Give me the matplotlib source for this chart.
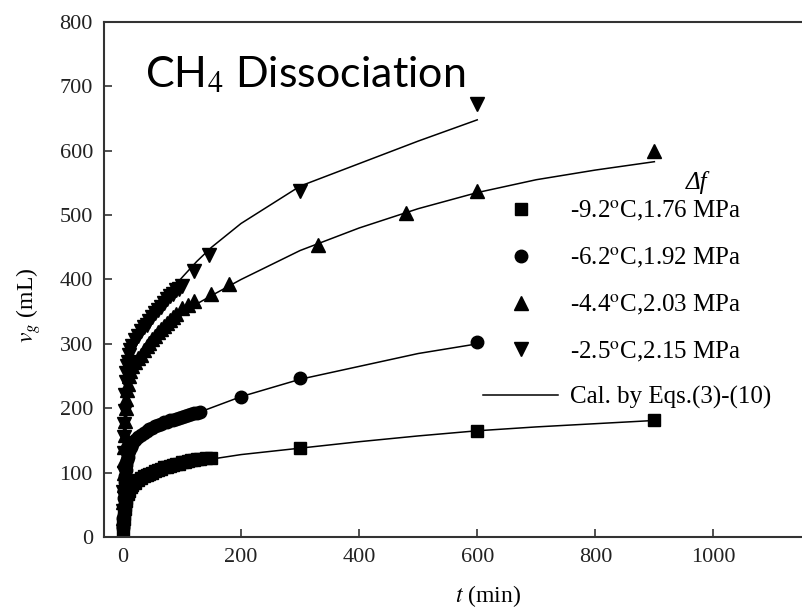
import numpy as np
import matplotlib
matplotlib.use('Agg')
import matplotlib.pyplot as plt
from matplotlib.lines import Line2D

# ============================== DATA ==============================
# Measured gas volume v_g [mL] vs time t [min] for four conditions

# -9.2 C, 1.76 MPa (squares)
t_sq = [0, 0.5, 1, 2, 3, 4, 5, 6, 8, 10, 13, 16, 20, 25, 30, 35, 40, 45, 50, 55,
        60, 65, 70, 75, 80, 85, 90, 95, 100, 105, 110, 115, 120, 125, 130, 140, 150,
        300, 600, 900]
v_sq = [10, 20, 28, 36, 44, 50, 56, 61, 67, 72, 77, 80, 84, 88, 91, 94, 96, 98, 100, 102,
        104, 106, 108, 109, 111, 112, 113, 114, 116, 117, 118, 119, 120, 121, 121, 122, 123,
        138, 165, 182]

# -6.2 C, 1.92 MPa (circles)
t_ci = [0, 0.5, 1, 1.5, 2, 3, 4, 5, 6, 7, 8, 10, 13, 16, 20, 25, 30, 35, 40, 45,
        50, 55, 60, 65, 70, 75, 80, 85, 90, 95, 100, 105, 110, 115, 120, 125, 130,
        200, 300, 600]
v_ci = [15, 30, 45, 60, 72, 85, 95, 104, 112, 119, 125, 133, 140, 145, 150, 155, 159, 162, 165, 168,
        170, 172, 174, 176, 178, 179, 181, 182, 184, 185, 187, 188, 190, 191, 192, 193, 194,
        218, 247, 303]

# -4.4 C, 2.03 MPa (up triangles)
t_up = [0, 0.5, 1, 1.5, 2, 2.5, 3, 4, 5, 6, 7, 8, 10, 12, 15, 20, 25, 30, 35, 40,
        45, 50, 55, 60, 65, 70, 75, 80, 85, 90, 100, 110, 120, 150, 180,
        330, 480, 600, 900]
v_up = [30, 55, 80, 100, 120, 140, 158, 180, 200, 215, 228, 238, 250, 258, 265, 272, 278, 283, 290, 296,
        302, 307, 312, 318, 323, 328, 333, 337, 342, 347, 355, 360, 366, 378, 393,
        453, 503, 537, 600]

# -2.5 C, 2.15 MPa (down triangles)
t_dn = [0, 0.5, 1, 1.5, 2, 2.5, 3, 4, 5, 6, 7, 8, 10, 12, 15, 20, 25, 30, 35, 40,
        45, 50, 55, 60, 65, 70, 75, 80, 85, 90, 95, 100, 120, 145,
        300, 600]
v_dn = [40, 70, 100, 130, 155, 175, 195, 220, 240, 255, 265, 272, 282, 290, 297, 306, 313, 320, 326, 330,
        336, 342, 348, 353, 358, 363, 369, 374, 378, 383, 386, 390, 413, 438,
        537, 672]

# Calculated curves, Eqs.(3)-(10)
tc_sq = [0, 2, 5, 10, 20, 30, 50, 75, 100, 150, 200, 300, 400, 500, 600, 700, 800, 900]
vc_sq = [0, 35, 55, 70, 84, 91, 100, 110, 116, 121, 128, 138, 148, 157, 165, 171, 176, 181]
tc_ci = [0, 2, 5, 10, 20, 30, 50, 75, 100, 130, 200, 300, 400, 500, 600]
vc_ci = [0, 70, 105, 130, 148, 157, 170, 180, 187, 194, 218, 245, 265, 285, 300]
tc_up = [0, 2, 5, 10, 20, 30, 40, 60, 80, 100, 125, 150, 200, 300, 400, 500, 600, 700, 800, 900]
vc_up = [0, 130, 200, 245, 265, 275, 285, 305, 325, 345, 362, 375, 400, 445, 480, 510, 535, 555, 570, 583]
tc_dn = [0, 2, 5, 10, 20, 30, 40, 60, 80, 100, 125, 150, 200, 300, 400, 500, 600]
vc_dn = [0, 150, 230, 275, 305, 322, 338, 360, 382, 403, 428, 450, 487, 545, 580, 615, 648]

labels = ['-9.2$^{\\mathrm{o}}$C,1.76 MPa', '-6.2$^{\\mathrm{o}}$C,1.92 MPa',
          '-4.4$^{\\mathrm{o}}$C,2.03 MPa', '-2.5$^{\\mathrm{o}}$C,2.15 MPa']
calc_label = 'Cal. by Eqs.(3)-(10)'

# ============================== PLOT ==============================
plt.rcParams['font.family'] = 'Liberation Serif'
plt.rcParams['mathtext.fontset'] = 'stix'
plt.rcParams['axes.linewidth'] = 1.5

fig = plt.figure(figsize=(8.02, 6.13), dpi=100)
ax = fig.add_axes([0.1297, 0.124, 0.8703, 0.8401])

lc = 'k'
ax.plot(tc_sq, vc_sq, '-', color=lc, lw=1.1)
ax.plot(tc_ci, vc_ci, '-', color=lc, lw=1.1)
ax.plot(tc_up, vc_up, '-', color=lc, lw=1.1)
ax.plot(tc_dn, vc_dn, '-', color=lc, lw=1.1)

ax.plot(t_sq, v_sq, 's', color='k', ms=8, ls='none')
ax.plot(t_ci, v_ci, 'o', color='k', ms=9, ls='none')
ax.plot(t_up, v_up, '^', color='k', ms=10, ls='none')
ax.plot(t_dn, v_dn, 'v', color='k', ms=10, ls='none')

ax.set_xlim(-32, 1150)
ax.set_ylim(0, 800)
ax.set_xticks([0, 200, 400, 600, 800, 1000])
ax.set_yticks(np.arange(0, 801, 100))
ax.tick_params(direction='in', length=6, width=1.2, labelsize=16, pad=8, colors='#333333',
               labelcolor='#222222')
ax.spines['right'].set_visible(False)
for s in ['left', 'top', 'bottom']:
    ax.spines[s].set_color('#333333')

ax.set_xlabel('$t$ (min)', fontsize=17)
ax.xaxis.set_label_coords(0.55, -0.09)
ax.set_ylabel('$v_g$ (mL)', fontsize=17)
ax.yaxis.set_label_coords(-0.087, 0.45)

# Legend
handles = [Line2D([], [], marker='s', color='k', ls='none', ms=8),
           Line2D([], [], marker='o', color='k', ls='none', ms=9),
           Line2D([], [], marker='^', color='k', ls='none', ms=10),
           Line2D([], [], marker='v', color='k', ls='none', ms=10),
           Line2D([], [], color='k', lw=1.1)]
leg = ax.legend(handles, labels + [calc_label], loc='upper left', frameon=False,
                bbox_to_anchor=(483/802, 1-199/613), bbox_transform=fig.transFigure,
                fontsize=18, handlelength=3.0, handletextpad=0.5, labelspacing=0.9,
                borderpad=0, borderaxespad=0)

fig.text(697/802, 1-182/613, '\u0394f', fontsize=18, style='italic', ha='center', va='center')

fig.text(145/802, 1-87/613, 'CH$_4$ Dissociation', fontsize=31, family='Lato',
         ha='left', va='baseline')

plt.savefig('out.png', dpi=100)
